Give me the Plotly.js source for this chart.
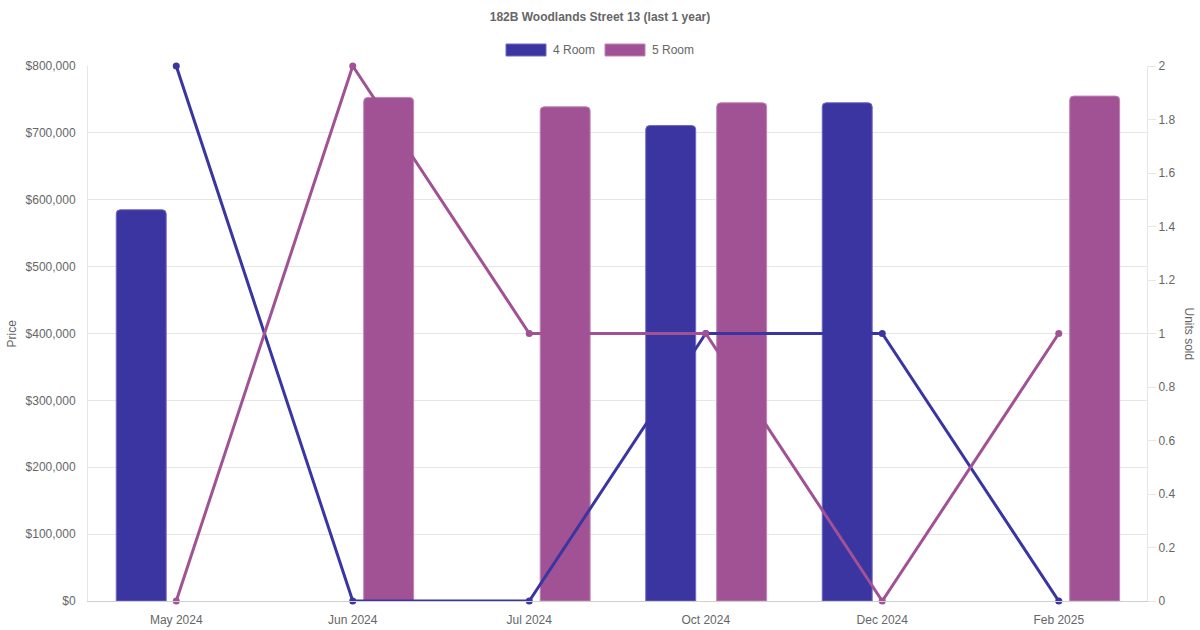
<!DOCTYPE html>
<html>
<head>
<meta charset="utf-8">
<script src="https://cdn.plot.ly/plotly-3.0.1.min.js"></script>
<style>
  html, body { margin: 0; padding: 0; background: #fff; }
  #chart { width: 1200px; height: 630px; }
</style>
</head>
<body>
<div id="chart"></div>
<script>
// months shown on the x axis
var months = ['May 2024', 'Jun 2024', 'Jul 2024', 'Oct 2024', 'Dec 2024', 'Feb 2025'];
// median price per month (bars, left axis)
var price4Room = [585000, null, null, 711000, 745000, null];
var price5Room = [null, 753000, 739000, 745000, null, 755000];
// units sold per month (lines, right axis)
var units4Room = [2, 0, 0, 1, 1, 0];
var units5Room = [0, 2, 1, 1, 0, 1];
var seriesNames = ['4 Room', '5 Room'];

var BLUE = '#3a35a1';
var PURPLE = '#a05294';
var GREY = '#666';

// plot box in pixels, used to place the hand made legend and axis titles
var W = 1200, H = 630;
var L = 88, R = 1147, T = 66, B = 601;
function px(x) { return (x - L) / (R - L); }
function py(y) { return (B - y) / (B - T); }

var traces = [
	{
		x: months, y: price4Room, name: seriesNames[0], type: 'bar',
		offset: -0.34, width: 0.283,
		marker: {color: BLUE, line: {color: '#6f6bc4', width: 1}},
		hoverinfo: 'y'
	},
	{
		x: months, y: price5Room, name: seriesNames[1], type: 'bar',
		offset: 0.062, width: 0.283,
		marker: {color: PURPLE, line: {color: '#c184b8', width: 1}},
		hoverinfo: 'y'
	},
	{
		x: months, y: units4Room, name: seriesNames[0], type: 'scatter', mode: 'lines+markers',
		yaxis: 'y2', cliponaxis: false,
		line: {color: BLUE, width: 3}, marker: {color: BLUE, size: 7}
	},
	{
		x: months, y: units5Room, name: seriesNames[1], type: 'scatter', mode: 'lines+markers',
		yaxis: 'y2', cliponaxis: false,
		line: {color: PURPLE, width: 3}, marker: {color: PURPLE, size: 7}
	}
];

// legend boxes drawn by hand (chart.js style wide swatches)
var legendItems = [
	{x0: 506, x1: 546, tx: 551, color: BLUE, border: '#6f6bc4'},
	{x0: 605, x1: 645, tx: 650, color: PURPLE, border: '#c184b8'}
];
var shapes = [];
var annotations = [];
legendItems.forEach(function(item, i){
	shapes.push({
		type: 'rect', xref: 'paper', yref: 'paper',
		x0: px(item.x0), x1: px(item.x1), y0: py(56), y1: py(44),
		fillcolor: item.color, line: {color: item.border, width: 1}
	});
	annotations.push({
		xref: 'paper', yref: 'paper', x: px(item.tx), y: py(50),
		xanchor: 'left', yanchor: 'middle', showarrow: false,
		text: seriesNames[i], font: {size: 12, color: GREY}
	});
});
// axis titles
annotations.push({
	xref: 'paper', yref: 'paper', x: px(11), y: 0.5, textangle: -90,
	xanchor: 'center', yanchor: 'middle', showarrow: false,
	text: 'Price', font: {size: 12, color: GREY}
});
annotations.push({
	xref: 'paper', yref: 'paper', x: px(1189), y: 0.5, textangle: 90,
	xanchor: 'center', yanchor: 'middle', showarrow: false,
	text: 'Units sold', font: {size: 12, color: GREY}
});

var layout = {
	width: W, height: H,
	margin: {l: L, r: W - R, t: T, b: H - B, pad: 0},
	paper_bgcolor: '#fff', plot_bgcolor: '#fff',
	font: {family: 'Liberation Sans, Arial, sans-serif', size: 12, color: GREY},
	title: {
		text: '<b>182B Woodlands Street 13 (last 1 year)</b>',
		x: 0.5, xref: 'container', y: 1 - 17 / H, yref: 'container', yanchor: 'middle',
		font: {size: 12, color: GREY}
	},
	showlegend: false,
	barmode: 'overlay',
	barcornerradius: 4,
	xaxis: {
		type: 'category', range: [-0.5, 5.5],
		showgrid: false, zeroline: false,
		showline: true, linecolor: '#cfcfcf', linewidth: 1,
		ticks: 'outside', ticklen: 8, tickcolor: 'rgba(0,0,0,0)',
		tickfont: {size: 12, color: GREY}
	},
	yaxis: {
		range: [0, 800000], dtick: 100000,
		tickprefix: '$', tickformat: ',d',
		gridcolor: '#e6e6e6', zeroline: false,
		showline: true, linecolor: '#e6e6e6', linewidth: 1,
		ticks: 'outside', ticklen: 9, tickcolor: 'rgba(0,0,0,0)',
		tickfont: {size: 12, color: GREY}
	},
	yaxis2: {
		overlaying: 'y', side: 'right',
		range: [0, 2], dtick: 0.2,
		showgrid: false, zeroline: false,
		showline: true, linecolor: '#e6e6e6', linewidth: 1,
		ticks: 'outside', ticklen: 8, tickcolor: '#e6e6e6',
		tickfont: {size: 12, color: GREY}
	},
	shapes: shapes,
	annotations: annotations
};

Plotly.newPlot('chart', traces, layout, {displayModeBar: false, staticPlot: true});
</script>
</body>
</html>
